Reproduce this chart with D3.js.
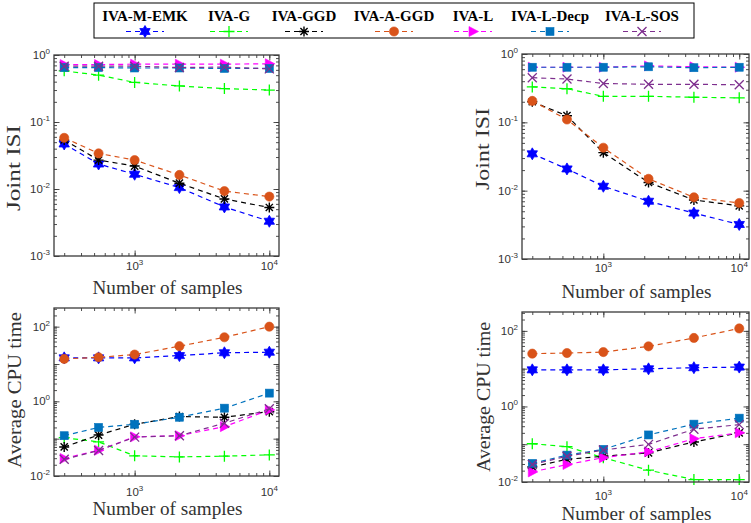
<!DOCTYPE html>
<html lang="en">
<head>
<meta charset="UTF-8">
<title>IVA comparison</title>
<script src="https://cdn.jsdelivr.net/npm/d3@7/dist/d3.min.js"></script>
<style>
  body { margin: 0; background: #fff; }
  svg { display: block; }
</style>
</head>
<body>
<svg width="751" height="523"></svg>
<script>
// data
var methods = ['IVA-M-EMK', 'IVA-G', 'IVA-GGD', 'IVA-A-GGD', 'IVA-L', 'IVA-L-Decp', 'IVA-L-SOS'];
var colors = ['#0000ff', '#00ff00', '#000000', '#D95319', '#ff00ff', '#0072BD', '#7E2F8E'];
var markers = ['hexagram', 'plus', 'asterisk', 'circle', 'triangle', 'square', 'cross'];
var samples = [300, 540, 1000, 2150, 4640, 10000];

// one row per method, same order as `methods`
var isiLeft = [
  [0.047, 0.0236, 0.0166, 0.0105, 0.0054, 0.0033],
  [0.58, 0.50, 0.39, 0.345, 0.315, 0.30],
  [0.054, 0.027, 0.022, 0.0122, 0.0071, 0.0053],
  [0.058, 0.034, 0.027, 0.0162, 0.0093, 0.0077],
  [0.72, 0.72, 0.73, 0.73, 0.73, 0.74],
  [0.65, 0.65, 0.64, 0.64, 0.63, 0.63],
  [0.68, 0.68, 0.68, 0.65, 0.66, 0.62]
];
var isiRight = [
  [0.0346, 0.0208, 0.0116, 0.007, 0.0047, 0.0032],
  [0.33, 0.31, 0.24, 0.24, 0.233, 0.228],
  [0.2, 0.125, 0.036, 0.0132, 0.0073, 0.006],
  [0.206, 0.11, 0.0425, 0.0149, 0.008, 0.0066],
  [0.64, 0.64, 0.64, 0.67, 0.65, 0.64],
  [0.64, 0.64, 0.64, 0.65, 0.63, 0.64],
  [0.45, 0.43, 0.37, 0.36, 0.36, 0.354]
];
var cpuLeft = [
  [14.6, 14.6, 14.6, 16.8, 20, 20.7],
  [0.106, 0.082, 0.0347, 0.0325, 0.034, 0.0368],
  [0.06, 0.125, 0.243, 0.39, 0.375, 0.53],
  [13.7, 15.1, 17.9, 30, 52, 100],
  [0.0295, 0.049, 0.112, 0.12, 0.21, 0.59],
  [0.12, 0.2, 0.243, 0.375, 0.656, 1.66],
  [0.028, 0.048, 0.11, 0.12, 0.26, 0.63]
];
var cpuRight = [
  [9.3, 9.3, 9.3, 9.9, 10.6, 11],
  [0.103, 0.086, 0.044, 0.0205, 0.0116, 0.0116],
  [0.025, 0.04, 0.048, 0.059, 0.115, 0.2],
  [25, 25.9, 27.5, 39, 65, 116],
  [0.0185, 0.029, 0.044, 0.063, 0.14, 0.2],
  [0.031, 0.0515, 0.073, 0.176, 0.34, 0.49],
  [0.029, 0.048, 0.07, 0.099, 0.25, 0.33]
];
var isiExponents = [-3, -2, -1, 0];
var cpuExponents = [-2, 0, 2];
var xExponents = [3, 4];

var svg = d3.select('svg');
var axisColor = '#3a3a3a';
var serif = '"Liberation Serif", "Times New Roman", serif';
var sans = '"Liberation Sans", Arial, sans-serif';

// draw one marker centred at 0,0
function drawMarker(g, type, color) {
  if (type === 'hexagram') {
    var pts = [];
    for (var k = 0; k < 12; k++) {
      var r = k % 2 === 0 ? 6 : 3.5;
      var a = -Math.PI / 2 + k * Math.PI / 6;
      pts.push([r * Math.cos(a), r * Math.sin(a)]);
    }
    g.append('polygon').attr('points', pts.map(function (p) { return p.join(','); }).join(' '))
      .attr('fill', color).attr('stroke', color).attr('stroke-width', 0.8);
  } else if (type === 'plus') {
    g.append('path').attr('d', 'M-5.5,0H5.5M0,-5.5V5.5').attr('stroke', color).attr('stroke-width', 1.3);
  } else if (type === 'asterisk') {
    g.append('path').attr('d', 'M-5,0H5M0,-5V5M-3.6,-3.6L3.6,3.6M-3.6,3.6L3.6,-3.6')
      .attr('stroke', color).attr('stroke-width', 1.4);
  } else if (type === 'circle') {
    g.append('circle').attr('r', 4.6).attr('fill', color).attr('stroke', color).attr('stroke-width', 0.6);
  } else if (type === 'triangle') {
    g.append('path').attr('d', 'M5.5,0L-4,-5L-4,5Z').attr('fill', color).attr('stroke', color).attr('stroke-width', 0.6);
  } else if (type === 'square') {
    g.append('rect').attr('x', -4).attr('y', -4).attr('width', 8).attr('height', 8)
      .attr('fill', color).attr('stroke', color).attr('stroke-width', 0.6);
  } else if (type === 'cross') {
    g.append('path').attr('d', 'M-4.5,-4.5L4.5,4.5M-4.5,4.5L4.5,-4.5').attr('stroke', color).attr('stroke-width', 1.3);
  }
}

function powLabel(sel, exp) {
  sel.append('tspan').text('10');
  sel.append('tspan').attr('dy', -5).attr('font-size', 8).text(exp);
}

var panels = [
  { data: isiLeft, left: 54, top: 55, w: 225, h: 201, yDomain: [1e-3, 1], exps: isiExponents,
    ylab: 'Joint ISI', ylabLen: 86, ylabX: 20, ylabY: 168, xlabY: 294, xTickY: 270 },
  { data: isiRight, left: 522, top: 54, w: 227, h: 205, yDomain: [1e-3, 1], exps: isiExponents,
    ylab: 'Joint ISI', ylabLen: 82, ylabX: 489, ylabY: 149, xlabY: 298, xTickY: 272 },
  { data: cpuLeft, left: 54, top: 308, w: 225, h: 168, yDomain: [1e-2, Math.pow(10, 2.5)], exps: cpuExponents,
    ylab: 'Average CPU time', ylabLen: 156, ylabX: 21, ylabY: 390, xlabY: 515, xTickY: 496 },
  { data: cpuRight, left: 522, top: 312, w: 227, h: 170, yDomain: [1e-2, Math.pow(10, 2.5)], exps: cpuExponents,
    ylab: 'Average CPU time', ylabLen: 150, ylabX: 490, ylabY: 397, xlabY: 520, xTickY: 500 }
];

panels.forEach(function (p) {
  var x = d3.scaleLog().domain([252, 11800]).range([p.left, p.left + p.w]);
  var y = d3.scaleLog().domain(p.yDomain).range([p.top + p.h, p.top]);
  var g = svg.append('g');

  // minor + major ticks, pointing inward on all four sides
  var xMinor = x.ticks().filter(function (v) { return v > x.domain()[0] && v < x.domain()[1]; });
  var yMinor = y.ticks().filter(function (v) { return v > y.domain()[0] && v < y.domain()[1]; });
  var xMajor = xExponents.map(function (e) { return Math.pow(10, e); });
  var yMajor = d3.range(Math.ceil(Math.log10(p.yDomain[0])), Math.floor(Math.log10(p.yDomain[1])) + 1)
    .map(function (e) { return Math.pow(10, e); });

  [[d3.axisBottom, x, p.top + p.h, 0, true], [d3.axisTop, x, p.top, 0, true],
   [d3.axisLeft, y, 0, p.left, false], [d3.axisRight, y, 0, p.left + p.w, false]].forEach(function (a) {
    var ticks = a[4] ? xMinor : yMinor, major = a[4] ? xMajor : yMajor;
    [[ticks, -3], [major, -5.5]].forEach(function (t) {
      var ax = g.append('g').attr('transform', 'translate(' + a[3] + ',' + a[2] + ')')
        .call(a[0](a[1]).tickValues(t[0]).tickSize(t[1]).tickFormat(''));
      ax.select('.domain').remove();
      ax.selectAll('line').attr('stroke', axisColor).attr('stroke-width', 0.9);
    });
  });

  // series
  var line = d3.line().x(function (d) { return x(d[0]); }).y(function (d) { return y(d[1]); });
  p.data.forEach(function (vals, i) {
    var pts = samples.map(function (s, j) { return [s, vals[j]]; });
    g.append('path').attr('d', line(pts)).attr('fill', 'none')
      .attr('stroke', colors[i]).attr('stroke-width', 1.2).attr('stroke-dasharray', '5,4');
    pts.forEach(function (d) {
      drawMarker(g.append('g').attr('transform', 'translate(' + x(d[0]) + ',' + y(d[1]) + ')'), markers[i], colors[i]);
    });
  });

  // frame
  g.append('rect').attr('x', p.left).attr('y', p.top).attr('width', p.w).attr('height', p.h)
    .attr('fill', 'none').attr('stroke', axisColor).attr('stroke-width', 1.3);

  // tick labels
  p.exps.forEach(function (e) {
    g.append('text').attr('x', p.left - 4).attr('y', y(Math.pow(10, e)) + 4)
      .attr('text-anchor', 'end').attr('font-family', sans).attr('font-size', 11.5)
      .attr('fill', '#333').call(powLabel, e);
  });
  xExponents.forEach(function (e) {
    g.append('text').attr('x', x(Math.pow(10, e))).attr('y', p.xTickY)
      .attr('text-anchor', 'middle').attr('font-family', sans).attr('font-size', 11.5)
      .attr('fill', '#333').call(powLabel, e);
  });

  // axis titles
  g.append('text').attr('x', p.left + p.w / 2 + 1).attr('y', p.xlabY)
    .attr('text-anchor', 'middle').attr('font-family', serif).attr('font-size', 19)
    .attr('fill', '#333').attr('textLength', 150).attr('lengthAdjust', 'spacingAndGlyphs')
    .text('Number of samples');
  g.append('text').attr('transform', 'translate(' + p.ylabX + ',' + p.ylabY + ') rotate(-90)')
    .attr('text-anchor', 'middle').attr('font-family', serif).attr('font-size', 19)
    .attr('fill', '#333').attr('textLength', p.ylabLen).attr('lengthAdjust', 'spacingAndGlyphs')
    .text(p.ylab);
});

// legend
var legendX = [145, 229, 304, 394, 473, 550, 642];
var leg = svg.append('g');
leg.append('rect').attr('x', 94).attr('y', 3).attr('width', 600).attr('height', 35)
  .attr('fill', '#fff').attr('stroke', '#000').attr('stroke-width', 1);
methods.forEach(function (m, i) {
  leg.append('text').attr('x', legendX[i]).attr('y', 21).attr('text-anchor', 'middle')
    .attr('font-family', serif).attr('font-weight', 'bold').attr('font-size', 15).text(m);
  leg.append('path').attr('d', 'M' + (legendX[i] - 19) + ',31.5H' + (legendX[i] + 19))
    .attr('stroke', colors[i]).attr('stroke-width', 1.2).attr('stroke-dasharray', '5,4');
  drawMarker(leg.append('g').attr('transform', 'translate(' + legendX[i] + ',31.5)'), markers[i], colors[i]);
});
</script>
</body>
</html>
